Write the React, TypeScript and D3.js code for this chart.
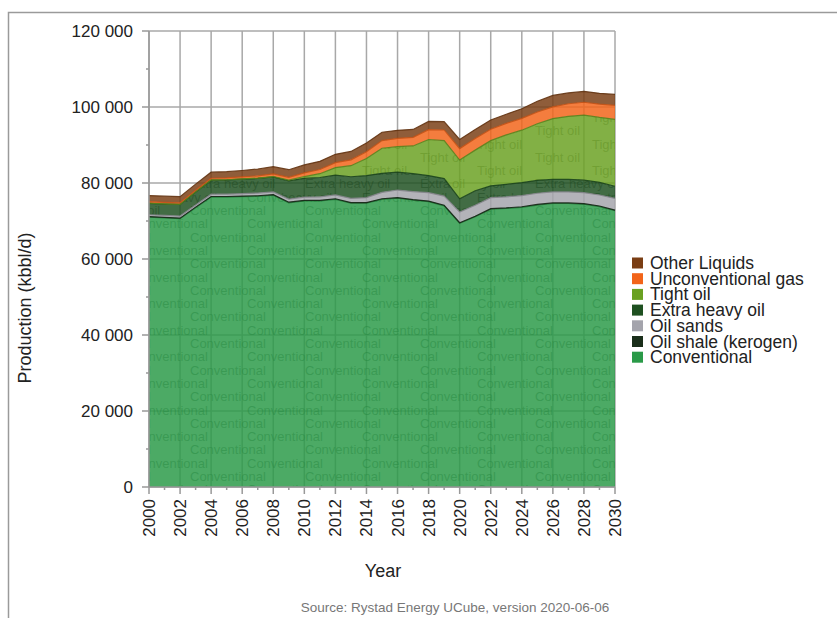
import React from 'react';
import * as d3 from 'd3';

const years = [2000, 2001, 2002, 2003, 2004, 2005, 2006, 2007, 2008, 2009, 2010, 2011, 2012, 2013, 2014, 2015, 2016, 2017, 2018, 2019, 2020, 2021, 2022, 2023, 2024, 2025, 2026, 2027, 2028, 2029, 2030];

const conventional = [71000, 70800, 70600, 73500, 76300, 76300, 76400, 76500, 76800, 74800, 75300, 75300, 75700, 74700, 74700, 75700, 76000, 75500, 75100, 74000, 69400, 71100, 73100, 73300, 73600, 74200, 74600, 74600, 74400, 73800, 72700];
const oilShale = [150, 150, 150, 150, 150, 150, 150, 150, 150, 150, 150, 150, 150, 150, 150, 150, 150, 150, 150, 150, 150, 150, 150, 150, 150, 150, 150, 150, 150, 150, 150];
const oilSands = [500, 520, 550, 580, 600, 600, 650, 700, 700, 800, 850, 900, 1000, 1100, 1300, 1700, 2000, 2100, 2200, 2400, 2800, 2900, 2900, 2900, 2950, 2950, 2900, 2900, 2900, 2900, 3100];
const extraHeavy = [3000, 3000, 3050, 3400, 3700, 3750, 3800, 3850, 3950, 4800, 4900, 5100, 5200, 5700, 5800, 5000, 4700, 4700, 4500, 4600, 3500, 3800, 3100, 3300, 3400, 3400, 3300, 3300, 3300, 3300, 3200];
const tightOil = [50, 50, 50, 50, 50, 60, 70, 80, 100, 200, 500, 1000, 2000, 2900, 4500, 6600, 6700, 7300, 9500, 10000, 10200, 10700, 11900, 13000, 13800, 14900, 16000, 16600, 17100, 17100, 17600];
const unconvGas = [400, 400, 400, 420, 450, 480, 520, 600, 700, 750, 950, 1100, 1300, 1550, 1750, 2000, 2200, 2250, 2600, 2800, 3000, 3050, 3000, 3050, 3100, 3100, 3100, 3300, 3400, 3500, 3700];
const otherLiquids = [1600, 1600, 1600, 1600, 1600, 1650, 1700, 1800, 1900, 2000, 2100, 2150, 2200, 2200, 2300, 2200, 2100, 2100, 2150, 2200, 2400, 2350, 2450, 2400, 2550, 2800, 3000, 2850, 2850, 2850, 2850];

const seriesNames = ['Conventional', 'Oil shale (kerogen)', 'Oil sands', 'Extra heavy oil', 'Tight oil', 'Unconventional gas', 'Other Liquids'];
const seriesValues = [conventional, oilShale, oilSands, extraHeavy, tightOil, unconvGas, otherLiquids];
const seriesColors = ['#2a9a48', '#1a2e1a', '#a4a4ac', '#1e5020', '#6aa121', '#f26419', '#7a3e14'];
const watermarkLayers = ['Conventional', 'Extra heavy oil', 'Tight oil'];

const yTicks = [0, 20000, 40000, 60000, 80000, 100000, 120000];
const yMinorTicks = [10000, 30000, 50000, 70000, 90000, 110000];
const xTicks = [2000, 2002, 2004, 2006, 2008, 2010, 2012, 2014, 2016, 2018, 2020, 2022, 2024, 2026, 2028, 2030];

const yTitle = 'Production (kbbl/d)';
const xTitle = 'Year';
const sourceText = 'Source: Rystad Energy UCube, version 2020-06-06';

const FONT = '"Liberation Sans", Arial, sans-serif';

export default function App() {
  const W = 837;
  const H = 618;
  const left = 149, right = 615, top = 31, bottom = 487;
  const x = d3.scaleLinear().domain([2000, 2030]).range([left, right]);
  const y = d3.scaleLinear().domain([0, 120000]).range([bottom, top]);

  const table = years.map((yr, i) => {
    const row: any = { year: yr };
    seriesNames.forEach((n, k) => { row[n] = seriesValues[k][i]; });
    return row;
  });
  const stacked = d3.stack<any>().keys(seriesNames)(table);
  const area = d3.area<any>()
    .x((d) => x(d.data.year))
    .y0((d) => y(d[0]))
    .y1((d) => y(d[1]));
  const topLine = d3.line<any>()
    .x((d) => x(d.data.year))
    .y((d) => y(d[1]));

  const fmt = (v: number) => d3.format(',')(v).replace(/,/g, ' ');
  const minorYears = years.filter((yr) => yr % 2 === 1);

  const bandAt = (s: any, px: number) => {
    const cx = Math.max(left, Math.min(right, px));
    const yr = x.invert(cx);
    const i = Math.max(0, Math.min(years.length - 2, Math.floor(yr - 2000)));
    const t = yr - years[i];
    const lo = s[i][0] + (s[i + 1][0] - s[i][0]) * t;
    const hi = s[i][1] + (s[i + 1][1] - s[i][1]) * t;
    return [y(hi), y(lo)];
  };

  const FS = 13;
  const rowStep = 13.3;
  const watermark = (s: any, name: string) => {
    const w = name.length * FS * 0.52;
    const out: { xx: number; yy: number }[] = [];
    let r = 0;
    for (let yy = 215 - rowStep * 14; yy < bottom + FS; yy += rowStep, r++) {
      const start = r % 2 === 0 ? 190 : 247;
      for (let xx = start - 115 * 3; xx < right; xx += 115) {
        if (xx + w < left) continue;
        const ty = yy - FS * 0.72, by = yy + 1;
        let vis = false;
        for (let sx = Math.max(xx, left); sx <= Math.min(xx + w, right); sx += 4) {
          const [bt, bb] = bandAt(s, sx);
          if (by > bt + 1.5 && ty < bb - 1.5 && bb - bt > 2) { vis = true; break; }
        }
        if (vis) out.push({ xx, yy });
      }
    }
    return out;
  };

  return (
    <svg width={W} height={H} style={{ position: 'absolute', left: 0, top: 0, background: '#fff' }} fontFamily={FONT}>
      <rect x={8.5} y={12.5} width={W} height={H} fill="#fff" stroke="#9a9a9a" strokeWidth={1.5} />
      <defs>
        {stacked.map((s, i) => (
          <clipPath id={`clip-${i}`} key={i}>
            <path d={area(s) || ''} />
          </clipPath>
        ))}
      </defs>
      {yTicks.map((t) => (
        <line key={`gy${t}`} x1={left} x2={right} y1={y(t)} y2={y(t)} stroke="#a8a8a8" strokeWidth={1.5} />
      ))}
      {xTicks.map((t) => (
        <line key={`gx${t}`} x1={x(t)} x2={x(t)} y1={top} y2={bottom} stroke="#a8a8a8" strokeWidth={1.5} />
      ))}
      {stacked.map((s, i) => (
        <path key={`a${i}`} d={area(s) || ''} fill={seriesColors[i]} fillOpacity={0.84} />
      ))}
      {stacked.map((s, i) =>
        watermarkLayers.includes(seriesNames[i]) ? (
          <g key={`w${i}`} clipPath={`url(#clip-${i})`} fill={d3.color(seriesColors[i])!.darker(0.4).formatHex()} fillOpacity={0.45} fontSize={FS}>
            {watermark(s, seriesNames[i]).map((p, k) => (
              <text key={k} x={p.xx} y={p.yy}>{seriesNames[i]}</text>
            ))}
          </g>
        ) : null
      )}
      {stacked.map((s, i) => (
        <path key={`l${i}`} d={topLine(s) || ''} fill="none" stroke={d3.color(seriesColors[i])!.darker(0.6).formatHex()} strokeWidth={1.2} strokeOpacity={0.9} />
      ))}
      <line x1={left} x2={left} y1={top} y2={bottom} stroke="#999" strokeWidth={1.5} />
      <line x1={left} x2={right} y1={bottom} y2={bottom} stroke="#999" strokeWidth={1.5} />
      {yTicks.map((t) => (
        <g key={`yt${t}`}>
          <line x1={left - 7} x2={left} y1={y(t)} y2={y(t)} stroke="#999" strokeWidth={1.5} />
          <text x={133} y={y(t) + 6} textAnchor="end" fontSize={17} fill="#222">{fmt(t)}</text>
        </g>
      ))}
      {yMinorTicks.map((t) => (
        <line key={`ym${t}`} x1={left - 3} x2={left} y1={y(t)} y2={y(t)} stroke="#999" strokeWidth={1.5} />
      ))}
      {xTicks.map((t) => (
        <g key={`xt${t}`}>
          <line x1={x(t)} x2={x(t)} y1={bottom} y2={bottom + 7} stroke="#999" strokeWidth={1.5} />
          <text transform={`translate(${x(t) + 6},${499}) rotate(-90)`} textAnchor="end" fontSize={17} fill="#222">{t}</text>
        </g>
      ))}
      {minorYears.map((t) => (
        <line key={`xm${t}`} x1={x(t)} x2={x(t)} y1={bottom} y2={bottom + 3} stroke="#999" strokeWidth={1.5} />
      ))}
      <text transform={`translate(31,308) rotate(-90)`} textAnchor="middle" fontSize={18} fill="#222">{yTitle}</text>
      <text x={383} y={577} textAnchor="middle" fontSize={18} fill="#222">{xTitle}</text>
      <text x={455} y={612} textAnchor="middle" fontSize={13.5} fill="#777">{sourceText}</text>
      {seriesNames.slice().reverse().map((n, k) => {
        const idx = seriesNames.length - 1 - k;
        const cy = 263 + k * 15.7;
        return (
          <g key={`lg${k}`}>
            <rect x={632} y={cy - 5.5} width={11} height={11} fill={seriesColors[idx]} />
            <text x={650} y={cy + 6} fontSize={17.5} fill="#222">{n}</text>
          </g>
        );
      })}
    </svg>
  );
}
